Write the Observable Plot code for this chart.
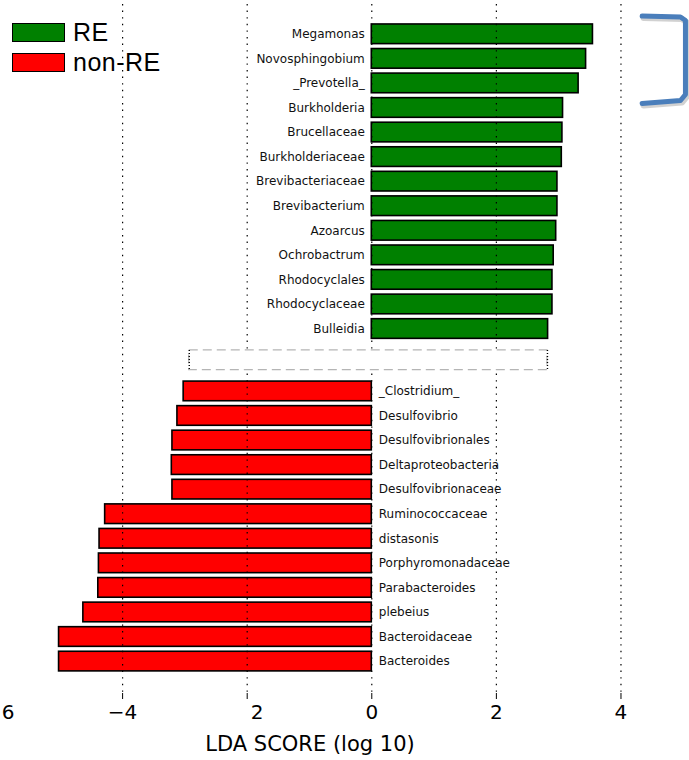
<!DOCTYPE html>
<html>
<head>
<meta charset="utf-8">
<script src="https://cdn.jsdelivr.net/npm/d3@7"></script>
<script src="https://cdn.jsdelivr.net/npm/@observablehq/plot@0.6"></script>
<style>
  html, body { margin: 0; padding: 0; background: #fff; }
  #chart { position: relative; width: 689px; height: 760px; }
  .legend { position: absolute; left: 12px; top: 22px; font-family: "Liberation Sans", Arial, sans-serif; font-size: 25px; letter-spacing: 0.5px; color: #000; }
  .legend .row { display: flex; align-items: center; height: 20px; margin-bottom: 10.5px; }
  .legend .sw { width: 51px; height: 17px; border: 1.8px solid #000; margin-right: 8px; }
</style>
</head>
<body>
<div id="chart"></div>
<script>
// Enriched features per group (LDA score, log10)
const reNames = ["Megamonas", "Novosphingobium", "_Prevotella_", "Burkholderia", "Brucellaceae",
  "Burkholderiaceae", "Brevibacteriaceae", "Brevibacterium", "Azoarcus", "Ochrobactrum",
  "Rhodocyclales", "Rhodocyclaceae", "Bulleidia"];
const reScores = [3.55, 3.44, 3.32, 3.07, 3.06, 3.05, 2.98, 2.98, 2.96, 2.92, 2.90, 2.90, 2.83];

const nonReNames = ["_Clostridium_", "Desulfovibrio", "Desulfovibrionales", "Deltaproteobacteria",
  "Desulfovibrionaceae", "Ruminococcaceae", "distasonis", "Porphyromonadaceae", "Parabacteroides",
  "plebeius", "Bacteroidaceae", "Bacteroides"];
const nonReScores = [-3.02, -3.12, -3.20, -3.21, -3.20, -4.28, -4.37, -4.38, -4.39, -4.63, -5.02, -5.02];

const groups = ["RE", "non-RE"];
const groupColors = ["#008000", "#ff0000"];

const tickValues = [-6, -4, -2, 0, 2, 4];
const tickLabels = ["6", "\u22124", "2", "0", "2", "4"];
const xLabel = "LDA SCORE (log 10)";

// separator box between the two groups (LDA extent)
const gapBox = [-2.93, 2.82];

// row layout: one row per feature, with a wider gap between groups
const gapRows = 2.54;
const half = 0.4;
const rows = [
  ...reNames.map((name, i) => ({name, score: reScores[i], group: groups[0], row: i})),
  ...nonReNames.map((name, i) => ({name, score: nonReScores[i], group: groups[1], row: reNames.length - 1 + gapRows + i}))
];
const gapRow = reNames.length - 1 + gapRows / 2;

// tick labels: negative values whose minus sign is not printed keep the digit where it would sit
const ticks = tickValues.map((v, i) => ({v, label: tickLabels[i], bare: v < 0 && !tickLabels[i].startsWith("\u2212")}));

// bracket annotation beside the top RE features
const bracket = [
  {x: 4.34, y: -0.745}, {x: 4.955, y: -0.704}, {x: 5.035, y: -0.562},
  {x: 5.035, y: 2.45}, {x: 4.955, y: 2.696}, {x: 4.34, y: 2.818}
];

const plot = Plot.plot({
  width: 689,
  height: 760,
  marginLeft: 0,
  marginRight: 0,
  marginTop: 4,
  marginBottom: 67,
  style: {fontFamily: "DejaVu Sans", background: "white", overflow: "visible"},
  x: {domain: [-5.96, 5.10]},
  y: {domain: [-1.213, 26.84], reverse: true, axis: null},
  color: {domain: groups, range: groupColors},
  marks: [
    Plot.rect(rows, {
      x1: 0, x2: "score",
      y1: d => d.row - half, y2: d => d.row + half,
      fill: "group", stroke: "#000", strokeWidth: 1.6
    }),
    Plot.ruleX(tickValues, {stroke: "#000", strokeWidth: 1.2, strokeDasharray: "1.4,5.2"}),
    Plot.rect([gapRow], {
      x1: gapBox[0], x2: gapBox[1], y1: d => d - half, y2: d => d + half,
      fill: "white", stroke: "#b5b5b5", strokeWidth: 1.3, strokeDasharray: "9,5"
    }),
    Plot.ruleX(gapBox, {y1: gapRow - half, y2: gapRow + half, stroke: "#000", strokeWidth: 1.4, strokeDasharray: "1.2,1.8"}),
    Plot.text(rows.filter(d => d.group === groups[0]), {
      x: 0, y: "row", text: "name", textAnchor: "end", dx: -7, fontSize: 12, fill: "#111"
    }),
    Plot.text(rows.filter(d => d.group === groups[1]), {
      x: 0, y: "row", text: "name", textAnchor: "start", dx: 7, fontSize: 12, fill: "#111"
    }),
    Plot.axisX({ticks: tickValues, tickSize: 6, tickFormat: () => "", label: null, stroke: "#000"}),
    Plot.text(ticks.filter(d => !d.bare), {x: "v", text: "label", frameAnchor: "bottom", dy: 25, fontSize: 20, fill: "#000"}),
    Plot.text(ticks.filter(d => d.bare), {x: "v", text: "label", frameAnchor: "bottom", dy: 25, dx: 10, fontSize: 20, fill: "#000"}),
    Plot.text([xLabel], {frameAnchor: "bottom", dx: -35, dy: 57, fontSize: 21, fill: "#000"}),
    // soft shadow, then the bracket stroke
    Plot.line(bracket, {
      x: "x", y: "y", stroke: "#000", strokeOpacity: 0.18, strokeWidth: 6, dx: 1.5, dy: 2,
      strokeLinejoin: "round"
    }),
    Plot.line(bracket, {
      x: "x", y: "y", stroke: "#4a7ebb", strokeWidth: 5, strokeLinejoin: "round"
    })
  ]
});

const chart = document.getElementById("chart");
chart.appendChild(plot);

// legend
const legend = document.createElement("div");
legend.className = "legend";
groups.forEach((g, i) => {
  const row = document.createElement("div");
  row.className = "row";
  const sw = document.createElement("div");
  sw.className = "sw";
  sw.style.background = groupColors[i];
  const label = document.createElement("span");
  label.textContent = g;
  row.appendChild(sw);
  row.appendChild(label);
  legend.appendChild(row);
});
chart.appendChild(legend);
</script>
</body>
</html>
